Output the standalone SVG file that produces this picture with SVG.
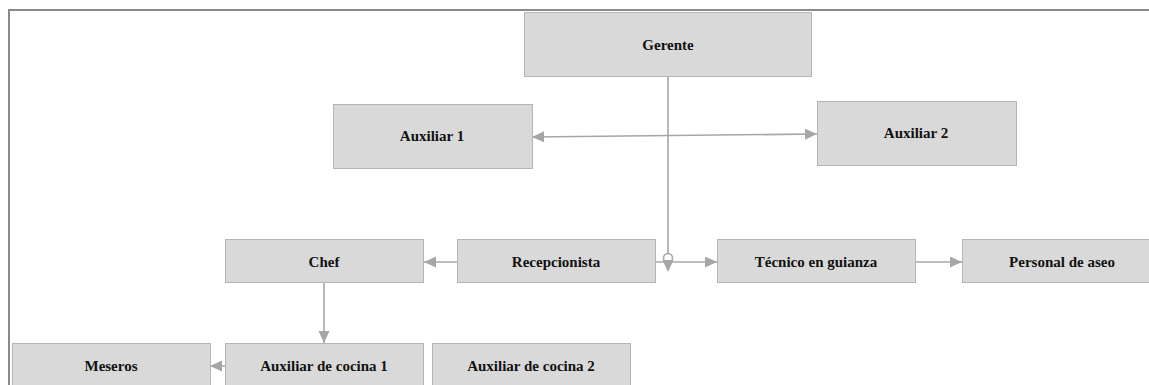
<svg xmlns="http://www.w3.org/2000/svg" width="1149" height="385" viewBox="0 0 1149 385">
  <style>
    .box { fill: #d9d9d9; stroke: #b5b5b5; stroke-width: 1; }
    .lbl { font-family: 'Liberation Serif', 'Times New Roman', 'DejaVu Serif', serif; font-weight: bold; font-size: 15px; fill: #111; text-anchor: middle; }
    .conn { fill: none; stroke: #a6a6a6; stroke-width: 1.6; }
    .frame { fill: none; stroke: #8a8a8a; stroke-width: 2; }
  </style>
  <defs>
    <marker id="arrow" markerUnits="userSpaceOnUse" markerWidth="14" markerHeight="12" refX="12" refY="5.5" orient="auto-start-reverse">
      <path d="M0,0 L12,5.5 L0,11 Z" fill="#a6a6a6"/>
    </marker>
  </defs>

  <rect width="1149" height="385" fill="#ffffff"/>
  <!-- page frame -->
  <path class="frame" d="M9,385 V10 H1149"/>

  <g id="connectors">
    <!-- Gerente trunk down to the junction -->
    <path class="conn" d="M668,77 V254"/>
    <circle cx="668" cy="258" r="4.5" fill="#ffffff" stroke="#a6a6a6" stroke-width="1.6"/>
    <path d="M662.5,260 L673.5,260 L668,272 Z" fill="#a6a6a6"/>
    <!-- Auxiliar 1 <-> Auxiliar 2 -->
    <path class="conn" d="M532,137 L817,134" marker-start="url(#arrow)" marker-end="url(#arrow)"/>
    <!-- Recepcionista -> Técnico en guianza -->
    <path class="conn" d="M656,262 H717" marker-end="url(#arrow)"/>
    <!-- Recepcionista -> Chef -->
    <path class="conn" d="M457,262 H424" marker-end="url(#arrow)"/>
    <!-- Técnico en guianza -> Personal de aseo -->
    <path class="conn" d="M915,262 H962" marker-end="url(#arrow)"/>
    <!-- Chef -> Auxiliar de cocina 1 -->
    <path class="conn" d="M324,282 V343" marker-end="url(#arrow)"/>
    <!-- Auxiliar de cocina 1 -> Meseros -->
    <path class="conn" d="M225,366 H210" marker-end="url(#arrow)"/>
  </g>

  <g id="gerente">
    <rect class="box" x="524.5" y="12.5" width="287" height="64"/>
    <text class="lbl" x="668" y="50">Gerente</text>
  </g>
  <g id="auxiliar1">
    <rect class="box" x="333.5" y="104.5" width="199" height="64"/>
    <text class="lbl" x="432" y="141">Auxiliar 1</text>
  </g>
  <g id="auxiliar2">
    <rect class="box" x="817.5" y="101.5" width="199" height="64"/>
    <text class="lbl" x="916" y="138">Auxiliar 2</text>
  </g>
  <g id="chef">
    <rect class="box" x="225.5" y="239.5" width="198" height="43"/>
    <text class="lbl" x="324" y="267">Chef</text>
  </g>
  <g id="recepcionista">
    <rect class="box" x="457.5" y="239.5" width="198" height="43"/>
    <text class="lbl" x="556" y="267">Recepcionista</text>
  </g>
  <g id="tecnico">
    <rect class="box" x="717.5" y="239.5" width="198" height="43"/>
    <text class="lbl" x="816" y="267">Técnico en guianza</text>
  </g>
  <g id="personal">
    <rect class="box" x="962.5" y="239.5" width="200" height="43"/>
    <text class="lbl" x="1062" y="267">Personal de aseo</text>
  </g>
  <g id="meseros">
    <rect class="box" x="12.5" y="343.5" width="198" height="50"/>
    <text class="lbl" x="111" y="371">Meseros</text>
  </g>
  <g id="cocina1">
    <rect class="box" x="225.5" y="343.5" width="198" height="50"/>
    <text class="lbl" x="324" y="371">Auxiliar de cocina 1</text>
  </g>
  <g id="cocina2">
    <rect class="box" x="432.5" y="343.5" width="198" height="50"/>
    <text class="lbl" x="531" y="371">Auxiliar de cocina 2</text>
  </g>
</svg>
